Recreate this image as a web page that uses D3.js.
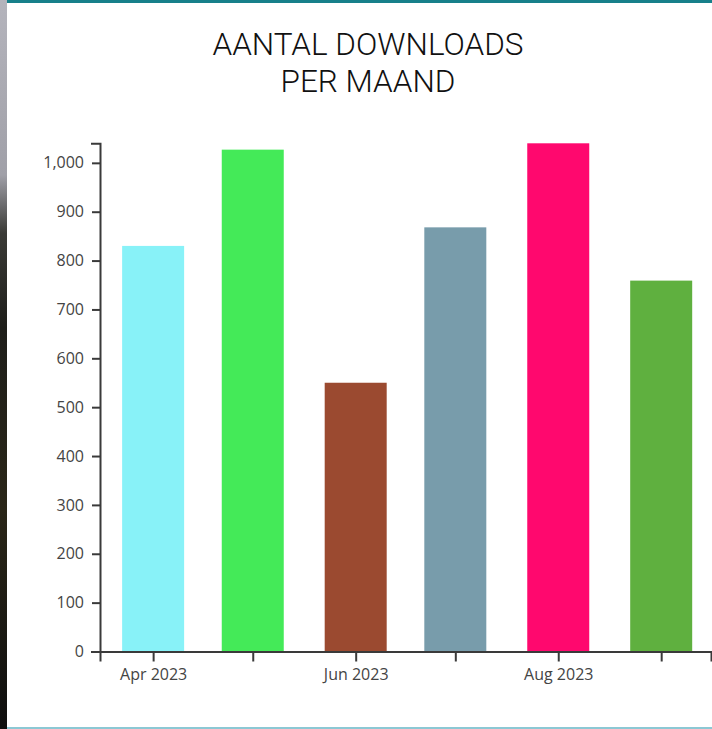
<!DOCTYPE html>
<html>
<head>
<meta charset="utf-8">
<script src="https://cdn.jsdelivr.net/npm/d3@7"></script>
<style>
  html, body { margin: 0; padding: 0; background: #fff; overflow: hidden; }
  svg { display: block; }
</style>
</head>
<body>
<svg id="chart" width="712" height="729"></svg>
<script>
// ---- data ----
const titleLines = ["AANTAL DOWNLOADS", "PER MAAND"];
const months = ["2023-04-01", "2023-05-01", "2023-06-01", "2023-07-01", "2023-08-01", "2023-09-01"];
const downloads = [830, 1027, 550, 868, 1040, 759];
const barColors = ["#88f2f8", "#44ea58", "#9b4a30", "#789cab", "#ff086e", "#5fb03f"];
const yTickValues = [0, 100, 200, 300, 400, 500, 600, 700, 800, 900, 1000];

const parse = d3.utcParse("%Y-%m-%d");
const dates = months.map(parse);
const data = dates.map((d, i) => ({ date: d, value: downloads[i], color: barColors[i] }));

const svg = d3.select("#chart");

// decorative frame
const defs = svg.append("defs");
const grad = defs.append("linearGradient").attr("id", "edge").attr("x1", 0).attr("y1", 0).attr("x2", 0).attr("y2", 1);
[[0, "#b4b4bc"], [0.24, "#a0a0a8"], [0.32, "#3a3a36"], [0.45, "#1e1e1a"], [0.7, "#2a2618"], [1, "#0e0e0e"]]
  .forEach(([o, c]) => grad.append("stop").attr("offset", o).attr("stop-color", c));
svg.append("rect").attr("x", 0).attr("y", 0).attr("width", 7).attr("height", 729).attr("fill", "url(#edge)");
svg.append("rect").attr("x", 7).attr("y", 0).attr("width", 705).attr("height", 3).attr("fill", "#17808a");
svg.append("rect").attr("x", 7).attr("y", 727).attr("width", 705).attr("height", 2).attr("fill", "#8cc8d4");

// title
const title = svg.append("text")
  .attr("x", 368).attr("y", 55)
  .attr("text-anchor", "middle")
  .style("font-family", "Roboto, sans-serif")
  .style("font-weight", 300)
  .style("font-size", "31.5px")
  .style("fill", "#111");
titleLines.forEach((t, i) => title.append("tspan").attr("x", 368).attr("dy", i === 0 ? 0 : 37).text(t));

// scales
const x = d3.scaleUtc()
  .domain([d3.utcDay.offset(dates[0], -16), d3.utcDay.offset(dates[dates.length - 1], 15)])
  .range([100, 711]);
const y = d3.scaleLinear()
  .domain([0, d3.max(downloads)])
  .range([651.5, 143.3]);

const barW = 62;

svg.append("g").selectAll("rect")
  .data(data).join("rect")
  .attr("x", d => x(d.date) - barW / 2)
  .attr("y", d => y(d.value))
  .attr("width", barW)
  .attr("height", d => y(0) - y(d.value))
  .attr("fill", d => d.color);

const fmtMonth = d3.utcFormat("%b %Y");
const xAxis = d3.axisBottom(x)
  .ticks(d3.utcMonth.every(1))
  .tickSize(10)
  .tickSizeOuter(10)
  .tickPadding(7)
  .tickFormat(d => ((d.getUTCMonth() - 3) % 2 === 0 ? fmtMonth(d) : ""));

const yAxis = d3.axisLeft(y)
  .tickValues(yTickValues)
  .tickSize(8)
  .tickSizeOuter(9)
  .tickPadding(8)
  .tickFormat(d3.format(","));

const gx = svg.append("g").attr("transform", "translate(0,651.5)").call(xAxis);
const gy = svg.append("g").attr("transform", "translate(100,0)").call(yAxis);

[gx, gy].forEach(g => {
  g.selectAll("path, line").attr("stroke", "#3a3a3a").attr("stroke-width", 2);
  g.selectAll("text")
    .style("font-family", "'Open Sans', 'Noto Sans', sans-serif")
    .style("font-size", "16px")
    .style("fill", "#444");
});
</script>
</body>
</html>
